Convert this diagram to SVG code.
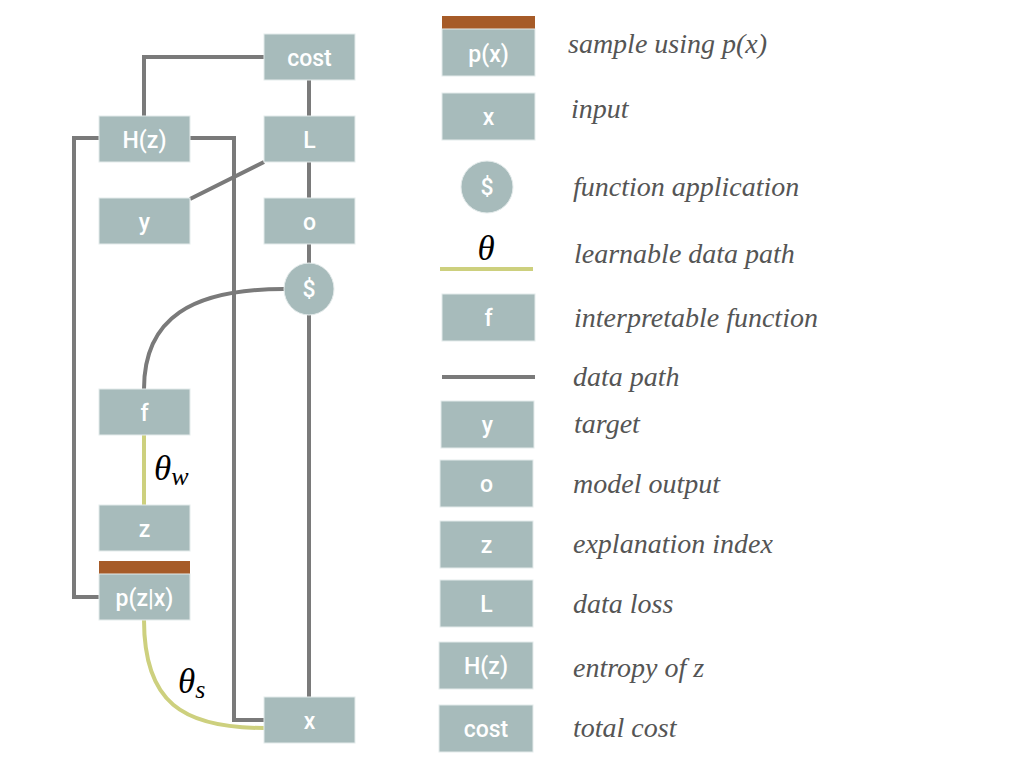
<svg xmlns="http://www.w3.org/2000/svg" width="1024" height="768" viewBox="0 0 1024 768">
<style>
.box{fill:#a7bbbb;stroke:#e4ebeb;stroke-width:1}
.bar{fill:#a65b28}
.lbl{fill:#ffffff;font-family:Roboto,"Liberation Sans",Arial,sans-serif;font-weight:500;font-size:23px;text-anchor:middle}
.dp{fill:none;stroke:#7a7a7a;stroke-width:4}
.lp{fill:none;stroke:#cdd07e;stroke-width:4}
.leg{fill:#555555;font-family:"Liberation Serif","Times New Roman",serif;font-style:italic;font-size:28px}
.math{fill:#000000;font-family:"Liberation Serif","Times New Roman",serif;font-style:italic;font-size:35px}
</style>
<rect width="1024" height="768" fill="#ffffff"/>
<g id="connectors">
<path class="dp" d="M264,57 H144 V116"/>
<path class="dp" d="M309,80 V116"/>
<path class="dp" d="M309,162 V198"/>
<path class="dp" d="M264,162 L190,199"/>
<path class="dp" d="M99,138 H74 V597 H99"/>
<path class="dp" d="M190,138 H234 V720 H264"/>
<path class="dp" d="M309,244 V263"/>
<path class="dp" d="M309,315 V697"/>
<path class="dp" d="M284,289 C192,289 144,318 144,389"/>
<path class="lp" d="M144,435 V505"/>
<path class="lp" d="M144,620 C144,702 182,728 264,728"/>
<text class="math" x="154" y="480">θ<tspan font-size="26" dy="5">w</tspan></text>
<text class="math" x="178" y="693">θ<tspan font-size="26" dy="5">s</tspan></text>
</g>
<g id="node-cost"><rect class="box" x="264" y="34" width="91" height="46"/><text class="lbl" x="309.5" y="66">cost</text></g>
<g id="node-Hz"><rect class="box" x="99" y="116" width="91" height="46"/><text class="lbl" x="144.5" y="148">H(z)</text></g>
<g id="node-L"><rect class="box" x="264" y="116" width="91" height="46"/><text class="lbl" x="309.5" y="148">L</text></g>
<g id="node-y"><rect class="box" x="99" y="198" width="91" height="46"/><text class="lbl" x="144.5" y="230">y</text></g>
<g id="node-o"><rect class="box" x="264" y="198" width="91" height="46"/><text class="lbl" x="309.5" y="230">o</text></g>
<g id="node-apply"><ellipse class="box" cx="309" cy="289" rx="25" ry="26"/><text class="lbl" x="309" y="297">$</text></g>
<g id="node-f"><rect class="box" x="99" y="389" width="91" height="46"/><text class="lbl" x="144.5" y="421">f</text></g>
<g id="node-z"><rect class="box" x="99" y="505" width="91" height="46"/><text class="lbl" x="144.5" y="537">z</text></g>
<g id="node-pzx"><rect class="bar" x="99" y="561" width="91" height="13"/><rect class="box" x="99" y="574" width="91" height="46"/><text class="lbl" x="144.5" y="606">p(z|x)</text></g>
<g id="node-x"><rect class="box" x="264" y="697" width="91" height="46"/><text class="lbl" x="309.5" y="729">x</text></g>
<g id="legend">
<g id="leg-px"><rect class="bar" x="442" y="16" width="93" height="13"/><rect class="box" x="442" y="29" width="93" height="47"/><text class="lbl" x="488.5" y="62">p(x)</text><text class="leg" x="568" y="53">sample using p(x)</text></g>
<g id="leg-x"><rect class="box" x="442" y="93" width="93" height="47"/><text class="lbl" x="488.5" y="125">x</text><text class="leg" x="571" y="118">input</text></g>
<g id="leg-apply"><ellipse class="box" cx="487" cy="187" rx="26" ry="26"/><text class="lbl" x="487" y="195">$</text><text class="leg" x="573" y="196">function application</text></g>
<g id="leg-learn"><text class="math" x="486" y="260" font-size="32" text-anchor="middle">θ</text><line class="lp" x1="440" y1="269" x2="533" y2="269"/><text class="leg" x="574" y="263">learnable data path</text></g>
<g id="leg-f"><rect class="box" x="442" y="294" width="93" height="47"/><text class="lbl" x="488.5" y="326">f</text><text class="leg" x="574" y="327">interpretable function</text></g>
<g id="leg-data"><line class="dp" x1="442" y1="377" x2="535" y2="377"/><text class="leg" x="573" y="386">data path</text></g>
<g id="leg-y"><rect class="box" x="441" y="401" width="93" height="47"/><text class="lbl" x="487.5" y="433">y</text><text class="leg" x="574" y="433">target</text></g>
<g id="leg-o"><rect class="box" x="440" y="460" width="93" height="47"/><text class="lbl" x="486.5" y="492">o</text><text class="leg" x="573" y="493">model output</text></g>
<g id="leg-z"><rect class="box" x="440" y="521" width="93" height="47"/><text class="lbl" x="486.5" y="553">z</text><text class="leg" x="573" y="553">explanation index</text></g>
<g id="leg-L"><rect class="box" x="440" y="580" width="93" height="47"/><text class="lbl" x="486.5" y="612">L</text><text class="leg" x="573" y="613">data loss</text></g>
<g id="leg-Hz"><rect class="box" x="439" y="642" width="94" height="47"/><text class="lbl" x="486" y="674">H(z)</text><text class="leg" x="573" y="677">entropy of z</text></g>
<g id="leg-cost"><rect class="box" x="439" y="705" width="94" height="47"/><text class="lbl" x="486" y="737">cost</text><text class="leg" x="573" y="737">total cost</text></g>
</g>
</svg>
